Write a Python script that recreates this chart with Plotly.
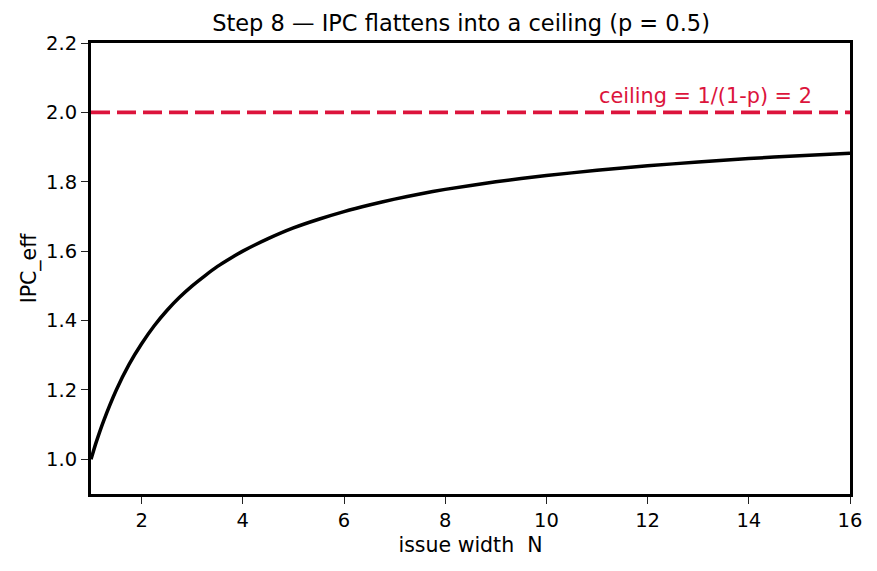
import plotly.graph_objects as go

# issue width N and IPC_eff
N_values = [1, 1.1, 1.25, 1.5, 1.75, 2, 2.25, 2.5, 2.75, 3, 3.25, 3.5, 3.75, 4, 4.5, 5, 5.5,
            6, 6.5, 7, 7.5, 8, 9, 10, 11, 12, 13, 14, 15, 16]
ipc_values = [1.000, 1.048, 1.111, 1.200, 1.273, 1.333, 1.385, 1.429, 1.467, 1.500, 1.529,
              1.556, 1.579, 1.600, 1.636, 1.667, 1.692, 1.714, 1.733, 1.750, 1.765, 1.778,
              1.800, 1.818, 1.833, 1.846, 1.857, 1.867, 1.875, 1.882]
ceiling = 2.0
x_ticks = [2, 4, 6, 8, 10, 12, 14, 16]
y_ticks = [1.0, 1.2, 1.4, 1.6, 1.8, 2.0, 2.2]

crimson = "#DC143C"
font = "DejaVu Sans"

fig = go.Figure()
fig.add_trace(go.Scatter(x=[1, 16], y=[ceiling, ceiling], mode="lines",
                         line=dict(color=crimson, width=3.6, dash="19px,7px"),
                         hoverinfo="skip", showlegend=False))
fig.add_trace(go.Scatter(x=N_values, y=ipc_values, mode="lines",
                         line=dict(color="black", width=3.5, shape="spline", smoothing=0.5),
                         showlegend=False))

fig.add_annotation(x=15.28, y=ceiling, yshift=2, xanchor="right", yanchor="bottom",
                   text="ceiling = 1/(1-p) = 2", showarrow=False,
                   font=dict(family=font, size=20.8, color=crimson))

axis_common = dict(showline=True, linewidth=3, linecolor="black", mirror=True,
                   showgrid=False, zeroline=False, ticks="outside", ticklen=7,
                   tickwidth=1.3, tickcolor="#222", tickfont=dict(family=font, size=19.5, color="black"))

fig.update_layout(
    width=877, height=571,
    margin=dict(l=91, r=27, t=43, b=77),
    paper_bgcolor="white", plot_bgcolor="white",
    title=dict(text="Step 8 — IPC flattens into a ceiling (p = 0.5)", x=0.5257, xanchor="center",
               y=0.96, yanchor="middle", font=dict(family=font, size=22.5, color="black")),
    xaxis=dict(range=[1, 16], tickvals=x_ticks, ticktext=[str(v) for v in x_ticks],
               title=dict(text="issue width&nbsp;&nbsp;N", font=dict(family=font, size=20.5, color="black"), standoff=7),
               **axis_common),
    yaxis=dict(range=[0.9, 2.2], tickvals=y_ticks, ticktext=[f"{v:.1f}" for v in y_ticks],
               title=dict(text="IPC_eff", font=dict(family=font, size=20.5, color="black"), standoff=4),
               **axis_common),
)

fig.write_html("out.html")
